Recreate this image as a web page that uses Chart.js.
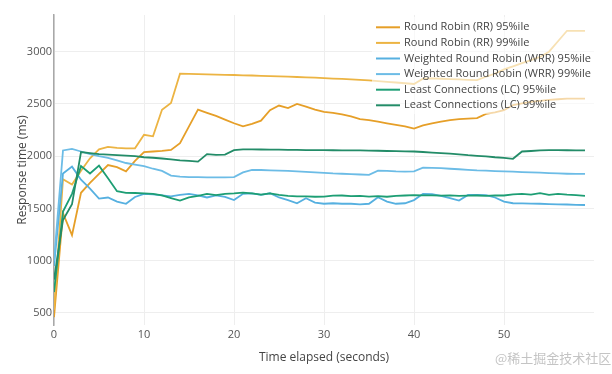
<!DOCTYPE html>
<html><head><meta charset="utf-8">
<script src="https://cdn.jsdelivr.net/npm/chart.js@4.4.0/dist/chart.umd.min.js"></script>
<style>html,body{margin:0;padding:0;background:#fff;}canvas{display:block;}</style>
</head><body>
<canvas id="c" width="612" height="374"></canvas>
<script>
const seconds = [0,1,2,3,4,5,6,7,8,9,10,11,12,13,14,15,16,17,18,19,20,21,22,23,24,25,26,27,28,29,30,31,32,33,34,35,36,37,38,39,40,41,42,43,44,45,46,47,48,49,50,51,52,53,54,55,56,57,58,59];
const seriesNames = ['Round Robin (RR) 95%ile','Round Robin (RR) 99%ile','Weighted Round Robin (WRR) 95%ile','Weighted Round Robin (WRR) 99%ile','Least Connections (LC) 95%ile','Least Connections (LC) 99%ile'];
const rr95 = [460,1455,1245,1650,1745,1830,1915,1895,1855,1955, 2040,2045,2050,2060,2125,2285,2445,2415,2385,2350, 2315,2285,2310,2340,2440,2485,2460,2500,2475,2445, 2425,2415,2400,2380,2355,2345,2330,2315,2300,2285, 2265,2295,2315,2330,2345,2355,2360,2365,2405,2420, 2440,2490,2505,2520,2530,2538,2545,2550,2550,2550];
const rr99 = [530,1780,1730,1860,1980,2065,2090,2080,2075,2075, 2205,2190,2445,2510,2790,2788,2786,2783,2781,2779, 2777,2774,2772,2769,2767,2764,2761,2758,2755,2751, 2747,2743,2739,2735,2731,2726,2719,2712,2705,2698, 2691,2742,2744,2741,2738,2735,2731,2728,2760,2790, 2830,2860,2890,2920,2950,3000,3100,3200,3200,3200];
const wrr95 = [950,1835,1900,1775,1690,1595,1605,1565,1545,1610, 1640,1635,1625,1615,1630,1640,1625,1605,1625,1610, 1580,1640,1645,1630,1645,1605,1580,1550,1598,1556, 1545,1550,1545,1545,1540,1545,1608,1566,1545,1550, 1580,1640,1638,1620,1598,1575,1630,1630,1628,1605, 1566,1550,1548,1546,1545,1542,1540,1538,1535,1533];
const wrr99 = [1000,2055,2070,2045,2020,2000,1985,1960,1935,1920, 1905,1880,1860,1815,1805,1800,1800,1798,1798,1798, 1800,1845,1870,1868,1865,1862,1860,1855,1850,1845, 1840,1835,1832,1828,1825,1822,1862,1860,1855,1852, 1855,1890,1888,1885,1880,1875,1870,1865,1862,1858, 1855,1852,1848,1845,1842,1838,1835,1832,1830,1830];
const lc95 = [700,1470,1640,1905,1835,1910,1790,1665,1650,1648, 1645,1640,1625,1600,1575,1605,1620,1640,1628,1640, 1645,1652,1645,1632,1645,1630,1620,1615,1615,1612, 1614,1622,1624,1618,1620,1614,1618,1612,1620,1624, 1628,1626,1625,1622,1625,1620,1623,1624,1620,1625, 1624,1635,1640,1632,1646,1630,1640,1632,1628,1620];
const lc99 = [820,1390,1540,2040,2030,2020,2015,2010,2005,2000, 1990,1985,1978,1970,1960,1955,1948,2020,2012,2015, 2058,2066,2066,2064,2063,2062,2061,2060,2059,2058, 2058,2057,2056,2055,2055,2054,2052,2050,2048,2046, 2045,2040,2035,2030,2025,2018,2010,2004,1998,1990, 1984,1975,2045,2050,2056,2058,2058,2057,2056,2055];
const yTickValues = [500,1000,1500,2000,2500,3000];
const xTickValues = [0,10,20,30,40,50];
const xTitle = 'Time elapsed (seconds)';
const yTitle = 'Response time (ms)';
const watermark = '@稀土掘金技术社区';

const allSeries = [rr95, rr99, wrr95, wrr99, lc95, lc99];
const lineColors = ['#E69F28','#ECB443','#56B0E0','#6CBCE6','#1D9E74','#238C68'];
const FONT = "'Open Sans', sans-serif";

const datasets = allSeries.map((vals, i) => ({
  label: seriesNames[i],
  data: vals.map((v, j) => ({x: seconds[j], y: v})),
  borderColor: lineColors[i],
  backgroundColor: lineColors[i],
  borderWidth: 1.8,
  pointRadius: 0,
  tension: 0,
  fill: false,
  order: allSeries.length - i
}));

const overlayPlugin = {
  id: 'overlay',
  afterDatasetsDraw(chart) {
    const ctx = chart.ctx;
    ctx.save();
    ctx.fillStyle = 'rgba(255,255,255,0.6)';
    ctx.fillRect(372, 17, 240, 97);
    ctx.font = '11px ' + FONT;
    ctx.textBaseline = 'middle';
    ctx.textAlign = 'left';
    datasets.forEach((ds, i) => {
      const y = 27.3 + i * 15.6;
      ctx.strokeStyle = ds.borderColor;
      ctx.lineWidth = 2;
      ctx.beginPath(); ctx.moveTo(376, y); ctx.lineTo(400, y); ctx.stroke();
      ctx.fillStyle = '#444';
      ctx.fillText(ds.label, 404, y);
    });
    ctx.font = "13px 'Noto Sans CJK SC'";
    ctx.fillStyle = '#c4c4c4';
    ctx.fillText(watermark, 495, 358);
    ctx.restore();
  }
};

new Chart(document.getElementById('c'), {
  type: 'line',
  data: { datasets },
  options: {
    responsive: false,
    animation: false,
    devicePixelRatio: 1,
    layout: { padding: { top: 15, right: 18, left: 0, bottom: 0 } },
    plugins: { legend: { display: false }, tooltip: { enabled: false } },
    scales: {
      x: {
        type: 'linear', min: 0, max: 60,
        afterBuildTicks: s => { s.ticks = xTickValues.map(v => ({value: v})); },
        afterFit: s => { s.height = 49; },
        grid: { color: '#eeeeee', lineWidth: 1, drawTicks: false },
        border: { display: false },
        ticks: { padding: 3, color: '#555', font: { family: FONT, size: 11 }, maxRotation: 0, callback: v => String(v) },
        title: { display: true, text: xTitle, color: '#444', font: { family: FONT, size: 12 }, padding: { top: 0, bottom: 9 } }
      },
      y: {
        type: 'linear', min: 385, max: 3351,
        afterBuildTicks: s => { s.ticks = yTickValues.map(v => ({value: v})); },
        afterFit: s => { s.width = 54; },
        grid: { color: '#eeeeee', lineWidth: 1, drawTicks: false },
        border: { display: true, color: '#a8a8a8', width: 1.5 },
        ticks: { padding: 2, color: '#555', font: { family: FONT, size: 11 }, callback: v => String(v) },
        title: { display: true, text: yTitle, color: '#444', font: { family: FONT, size: 12 }, padding: { top: 15, bottom: 0 } }
      }
    }
  },
  plugins: [overlayPlugin]
});
</script>
</body></html>
